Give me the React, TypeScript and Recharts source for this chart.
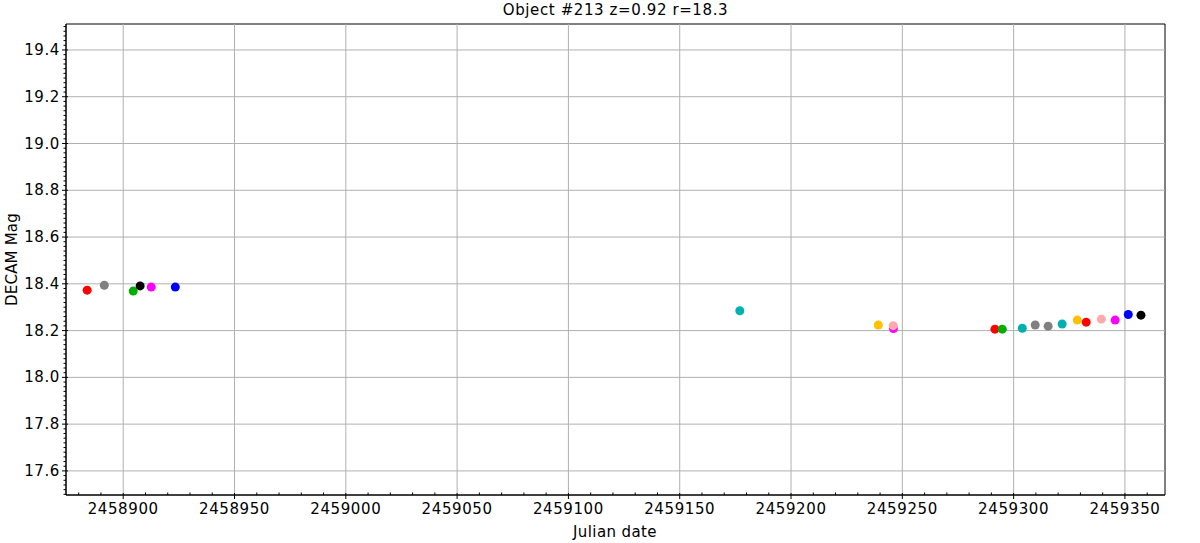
import React from 'react';
import { ScatterChart, Scatter, XAxis, YAxis, ReferenceLine, ReferenceArea } from 'recharts';

const TITLE = 'Object #213 z=0.92 r=18.3';
const X_LABEL = 'Julian date';
const Y_LABEL = 'DECAM Mag';

const X_DOMAIN: [number, number] = [2458874.3, 2459368.0];
const Y_DOMAIN: [number, number] = [17.497, 19.511];

const X_MAJOR = [2458900, 2458950, 2459000, 2459050, 2459100, 2459150, 2459200, 2459250, 2459300, 2459350];
const X_MAJOR_LABELS = ['2458900', '2458950', '2459000', '2459050', '2459100', '2459150', '2459200', '2459250', '2459300', '2459350'];
const Y_MAJOR = [17.6, 17.8, 18.0, 18.2, 18.4, 18.6, 18.8, 19.0, 19.2, 19.4];
const Y_MAJOR_LABELS = ['17.6', '17.8', '18.0', '18.2', '18.4', '18.6', '18.8', '19.0', '19.2', '19.4'];
const X_MINOR_STEP = 10;
const Y_MINOR_STEP = 0.02;

// observations grouped by marker colour
const redPts = [
  { jd: 2458883.8, mag: 18.373 },
  { jd: 2459291.6, mag: 18.206 },
  { jd: 2459332.6, mag: 18.236 },
];
const grayPts = [
  { jd: 2458891.5, mag: 18.394 },
  { jd: 2459309.7, mag: 18.224 },
  { jd: 2459315.5, mag: 18.219 },
];
const greenPts = [
  { jd: 2458904.5, mag: 18.369 },
  { jd: 2459294.9, mag: 18.206 },
];
const blackPts = [
  { jd: 2458907.6, mag: 18.391 },
  { jd: 2459357.2, mag: 18.266 },
];
const magentaPts = [
  { jd: 2458912.6, mag: 18.386 },
  { jd: 2459246.0, mag: 18.209 },
  { jd: 2459345.6, mag: 18.245 },
];
const bluePts = [
  { jd: 2458923.4, mag: 18.386 },
  { jd: 2459351.5, mag: 18.269 },
];
const cyanPts = [
  { jd: 2459177.0, mag: 18.285 },
  { jd: 2459303.9, mag: 18.21 },
  { jd: 2459321.8, mag: 18.228 },
];
const yellowPts = [
  { jd: 2459239.2, mag: 18.224 },
  { jd: 2459328.6, mag: 18.245 },
];
const pinkPts = [
  { jd: 2459245.9, mag: 18.221 },
  { jd: 2459339.4, mag: 18.249 },
];

const SERIES = [
  { name: 'red', color: '#ff0000', data: redPts },
  { name: 'gray', color: '#808080', data: grayPts },
  { name: 'green', color: '#00b000', data: greenPts },
  { name: 'black', color: '#000000', data: blackPts },
  { name: 'magenta', color: '#ff00ff', data: magentaPts },
  { name: 'blue', color: '#0000ff', data: bluePts },
  { name: 'cyan', color: '#00b0b0', data: cyanPts },
  { name: 'yellow', color: '#ffc000', data: yellowPts },
  { name: 'pink', color: '#ffaaaa', data: pinkPts },
];

const FONT = 'DejaVu Sans';
const TICK_STYLE = { letterSpacing: '0.6px' };

const xTicks: number[] = [];
for (let v = 2458880; v <= X_DOMAIN[1]; v += X_MINOR_STEP) xTicks.push(v);
const yTicks: number[] = [];
for (let i = Math.ceil(Y_DOMAIN[0] / Y_MINOR_STEP); i * Y_MINOR_STEP <= Y_DOMAIN[1]; i++) {
  yTicks.push(Math.round(i * Y_MINOR_STEP * 1000) / 1000);
}

const XTick = (props: any) => {
  const { x, y, payload } = props;
  const idx = X_MAJOR.findIndex((m) => Math.abs(m - payload.value) < 1e-6);
  if (idx >= 0) {
    return (
      <g>
        <line x1={x} x2={x} y1={y - 2} y2={y + 4} stroke="#000" strokeWidth={1} />
        <text x={x} y={y + 19} textAnchor="middle" fontFamily={FONT} fontSize={15} style={TICK_STYLE} fill="#000">
          {X_MAJOR_LABELS[idx]}
        </text>
      </g>
    );
  }
  return <line x1={x} x2={x} y1={y - 2.5} y2={y} stroke="#000" strokeWidth={1} />;
};

const YTick = (props: any) => {
  const { x, y, payload } = props;
  const idx = Y_MAJOR.findIndex((m) => Math.abs(m - payload.value) < 1e-6);
  if (idx >= 0) {
    return (
      <g>
        <line x1={x - 4} x2={x + 2} y1={y} y2={y} stroke="#000" strokeWidth={1} />
        <text x={x - 6} y={y + 5} textAnchor="end" fontFamily={FONT} fontSize={15} style={TICK_STYLE} fill="#000">
          {Y_MAJOR_LABELS[idx]}
        </text>
      </g>
    );
  }
  return <line x1={x - 2.5} x2={x} y1={y} y2={y} stroke="#000" strokeWidth={1} />;
};

const makeDot = (color: string) => (props: any) => (
  <circle cx={props.cx} cy={props.cy} r={4.5} fill={color} stroke="none" />
);

export default function App() {
  return (
    <div style={{ position: 'absolute', left: 0, top: 0, width: 1200, height: 543, background: '#fff' }}>
      <div
        style={{
          position: 'absolute',
          left: 66,
          width: 1099,
          top: 1,
          textAlign: 'center',
          fontFamily: FONT,
          fontSize: 15,
          letterSpacing: '0.6px',
          color: '#000',
        }}
      >
        {TITLE}
      </div>
      <ScatterChart width={1200} height={543} margin={{ top: 24, right: 35, bottom: 0, left: 0 }}>
        <XAxis
          type="number"
          dataKey="jd"
          domain={X_DOMAIN}
          ticks={xTicks}
          interval={0}
          tickSize={0}
          tickMargin={0}
          tickLine={false}
          tick={<XTick />}
          height={48}
          axisLine={{ stroke: '#000', strokeWidth: 1 }}
          allowDataOverflow
          label={{
            content: () => (
              <text
                x={615}
                y={537}
                textAnchor="middle"
                fontFamily={FONT}
                fontSize={15}
                style={{ letterSpacing: '0.4px' }}
                fill="#000"
              >
                {X_LABEL}
              </text>
            ),
          }}
        />
        <YAxis
          type="number"
          dataKey="mag"
          domain={Y_DOMAIN}
          ticks={yTicks}
          interval={0}
          tickSize={0}
          tickMargin={0}
          tickLine={false}
          tick={<YTick />}
          width={66}
          axisLine={{ stroke: '#000', strokeWidth: 1 }}
          allowDataOverflow
          label={{
            content: () => (
              <text
                x={17}
                y={259.5}
                transform="rotate(-90 17 259.5)"
                textAnchor="middle"
                fontFamily={FONT}
                fontSize={15}
                style={{ letterSpacing: '0.2px' }}
                fill="#000"
              >
                {Y_LABEL}
              </text>
            ),
          }}
        />
        {X_MAJOR.map((v) => (
          <ReferenceLine key={'gx' + v} x={v} stroke="#b0b0b0" strokeWidth={1} />
        ))}
        {Y_MAJOR.map((v) => (
          <ReferenceLine key={'gy' + v} y={v} stroke="#b0b0b0" strokeWidth={1} />
        ))}
        <ReferenceArea
          x1={X_DOMAIN[0]}
          x2={X_DOMAIN[1]}
          y1={Y_DOMAIN[0]}
          y2={Y_DOMAIN[1]}
          fill="none"
          fillOpacity={0}
          stroke="#000"
          strokeWidth={1}
        />
        {SERIES.map((s) => (
          <Scatter
            key={s.name}
            name={s.name}
            data={s.data}
            fill={s.color}
            shape={makeDot(s.color)}
            isAnimationActive={false}
          />
        ))}
      </ScatterChart>
    </div>
  );
}
